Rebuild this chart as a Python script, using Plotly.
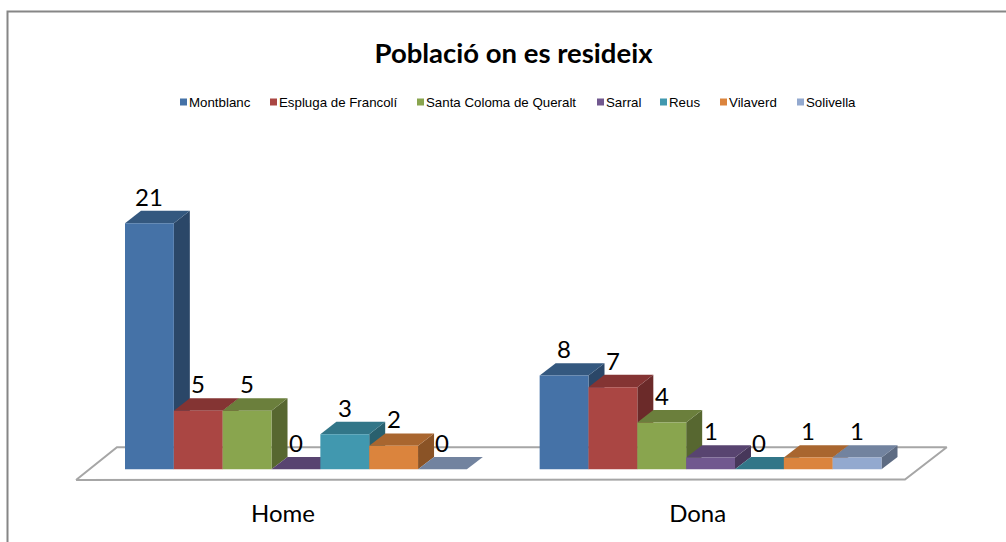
import plotly.graph_objects as go

TITLE = "Població on es resideix"
CATEGORIES = ["Home", "Dona"]
SERIES = ["Montblanc", "Espluga de Francolí", "Santa Coloma de Queralt", "Sarral", "Reus", "Vilaverd", "Solivella"]
HOME = [21, 5, 5, 0, 3, 2, 0]
DONA = [8, 7, 4, 1, 0, 1, 1]
FRONT = ["#4572A7", "#AA4643", "#89A54E", "#71588F", "#4198AF", "#DB843D", "#93A9CF"]
TOP = ["#34587F", "#843433", "#6B7F3C", "#584470", "#327688", "#A9662F", "#72839F"]
SIDE = ["#2B4768", "#6B2A29", "#576730", "#47375A", "#29606E", "#8A5326", "#5D6B82"]
LEGEND_SWATCH_PX = [180, 270, 417, 597, 660, 720, 797]

W, H = 1006, 542
PLOT_BOTTOM = 497
BAR_PX = 48.84
UNIT_PX = 11.72
X0_PX = 283
Y0_PX = 469.3
CAT_POS = [0, 8.49]
BAR_SHIFT = 0.265
DX = 16 / BAR_PX
DY = 12.4 / UNIT_PX
xrange_ = [-X0_PX / BAR_PX, (W - X0_PX) / BAR_PX]
yrange_ = [(Y0_PX - PLOT_BOTTOM) / UNIT_PX, Y0_PX / UNIT_PX]


def px(x):
    return x / W


def py(y):
    return 1 - y / PLOT_BOTTOM


fig = go.Figure()


def poly(xs, ys, color):
    fig.add_trace(go.Scatter(x=xs + xs[:1], y=ys + ys[:1], mode="lines", fill="toself",
                             fillcolor=color, line=dict(width=0), hoverinfo="skip",
                             showlegend=False))


# floor
fig.add_trace(go.Scatter(x=[-4.238, -3.40, 13.59, 12.735, -4.238], y=[-0.91, 1.877, 1.877, -0.87, -0.91],
                         mode="lines", fill="toself", fillcolor="white",
                         line=dict(color="#A6A6A6", width=2), hoverinfo="skip", showlegend=False))

annotations = []
values_by_cat = [HOME, DONA]
for c, values in enumerate(values_by_cat):
    for i, v in enumerate(values):
        x = CAT_POS[c] + (i - 3) + BAR_SHIFT
        l, r = x - 0.5, x + 0.5
        if v > 0:
            poly([r, r + DX, r + DX, r], [0, DY, v + DY, v], SIDE[i])
        poly([l, r, r + DX, l + DX], [v, v, v + DY, v + DY], TOP[i])
        annotations.append(dict(x=x, y=v, xref="x2", yref="y2", text=str(v), showarrow=False,
                                yshift=27, yanchor="middle", xanchor="center",
                                font=dict(family="Lato", size=24, color="black")))

for i, name in enumerate(SERIES):
    xs = [CAT_POS[c] + (i - 3) + BAR_SHIFT for c in range(len(CATEGORIES))]
    ys = [values_by_cat[c][i] for c in range(len(CATEGORIES))]
    fig.add_trace(go.Bar(x=xs, y=ys, width=1, name=name, xaxis="x2", yaxis="y2",
                         marker=dict(color=FRONT[i], line=dict(width=0)), showlegend=False))

shapes = [dict(type="path", xref="paper", yref="paper",
               path=f"M {px(7.5)} {py(542)} L {px(7.5)} {py(11.5)} L {px(1006)} {py(11.5)}",
               line=dict(color="#868686", width=2))]

for i, name in enumerate(SERIES):
    sx = LEGEND_SWATCH_PX[i]
    shapes.append(dict(type="rect", xref="paper", yref="paper", x0=px(sx), x1=px(sx + 7),
                       y0=py(105.5), y1=py(98.5), fillcolor=FRONT[i], line=dict(width=0)))
    annotations.append(dict(x=px(sx + 9), y=py(102), xref="paper", yref="paper", text=name,
                            showarrow=False, xanchor="left", yanchor="middle", xshift=-2,
                            font=dict(family="Liberation Sans", size=13.3, color="black")))

fig.update_layout(
    width=W, height=H, margin=dict(l=0, r=0, t=0, b=H - PLOT_BOTTOM),
    paper_bgcolor="white", plot_bgcolor="white", showlegend=False,
    barmode="overlay", shapes=shapes, annotations=annotations,
    title=dict(text=f"<b>{TITLE}</b>", x=513.5 / W, xanchor="center", xref="paper",
               y=1 - 53 / H, yref="container", yanchor="middle",
               font=dict(family="Lato", size=27.5, color="black")),
    xaxis=dict(range=xrange_, tickmode="array", tickvals=CAT_POS, ticktext=CATEGORIES,
               showgrid=False, zeroline=False, showline=False, ticks="",
               tickfont=dict(family="Lato", size=24, color="black")),
    yaxis=dict(range=yrange_, visible=False),
    xaxis2=dict(range=xrange_, overlaying="x", visible=False),
    yaxis2=dict(range=yrange_, overlaying="y", visible=False),
)

fig.write_html("out.html", config=dict(displayModeBar=False),
               post_script="document.body.style.margin='0';")
